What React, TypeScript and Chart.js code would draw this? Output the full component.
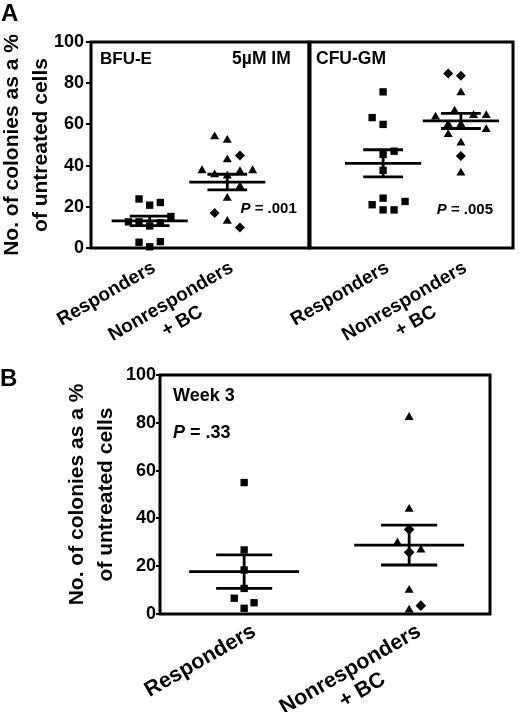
import React, { useEffect, useRef } from "react";
import { Chart, registerables } from "chart.js";

Chart.register(...registerables);

const FONT = "'Liberation Sans', Arial, Helvetica, sans-serif";

// ---------------- data ----------------
const categoryLabels: string[][] = [["Responders"], ["Nonresponders", "+ BC"]];
const yTicks = [0, 20, 40, 60, 80, 100];
const yTitleLines = ["No. of colonies as a %", "of untreated cells"];

// Panel A – BFU-E (5µM IM)
const bfuRespValues = [23.8, 20.8, 22.1, 15.3, 12.7, 12.7, 10.7, 12.2, 2.8, 3.1, 0.6];
const bfuRespCols = [-1, 0, 1, 2, -2, -1, 0, 1, -1, 1, 0];
const bfuNrTriValues = [54, 52.3, 42.9, 37.6, 35.6, 35, 37.2, 37.6, 29.8, 24.2, 13];
const bfuNrTriCols = [-1, 0, 0, -2, -1, 0, 1, 2, 1, 0, 0];
const bfuBcDiaValues = [44.9, 17, 9.9];
const bfuBcDiaCols = [1, -1, 1];
const bfuMeans = [13.2, 32];
const bfuSems = [2.3, 3.8];

// Panel A – CFU-GM
const cfuRespValues = [75.8, 63.3, 60, 47, 45.4, 37.7, 24.2, 21, 22.6, 18.5, 18.5];
const cfuRespCols = [0, -1, 0, 1, 0, 0, 0, -1, 2, 0, 1];
const cfuNrTriValues = [75.4, 66.5, 63.6, 64.4, 64.4, 60, 60, 57.6, 55.1, 51, 36.4];
const cfuNrTriCols = [0, -0.5, -2, 1, 2, -1, 0, 2, -1, 0, 0];
const cfuBcDiaValues = [84.7, 83.6, 44.6];
const cfuBcDiaCols = [-1, 0, 0];
const cfuMeans = [41.1, 61.7];
const cfuSems = [6.6, 3.7];

// Panel B – Week 3
const wk3RespValues = [55, 26.8, 18.4, 10.7, 6.6, 4.7, 2.4];
const wk3RespCols = [0, 0, 0, 0, -1, 1, 0];
const wk3NrTriValues = [82.3, 43.9, 29.8, 26.8, 10, 1.7];
const wk3NrTriCols = [0, 0, -1, 1, 0, 0];
const wk3BcDiaValues = [35.4, 25.8, 3.5];
const wk3BcDiaCols = [0, 0, 1];
const wk3Means = [17.7, 28.85];
const wk3Sems = [7, 8.35];

// ---------------- helpers ----------------
type Part = { t: string; italic?: boolean };
type Ann = {
  parts: Part[];
  size: number;
  fromX: "left" | "right";
  dx: number;
  fromY: "top" | "bottom";
  dy: number;
};
type Series = { values: number[]; cols: number[]; group: number; style: string; radius: number; step: number };

type Spec = {
  series: Series[];
  means: number[];
  sems: number[];
  xMin: number;
  xMax: number;
  meanHalf: number;
  semHalf: number;
  showY: boolean;
  yWidth: number;
  tickLen: number;
  tickPad: number;
  padding: { left: number; right: number; top: number; bottom: number };
  labelSize: number;
  labelDx: number;
  labelDy: number;
  labelLineH: number;
  anns: Ann[];
};

function toPoints(values: number[], cols: number[], group: number, step: number) {
  return values.map((v, i) => ({ x: group + cols[i] * step, y: v }));
}

function makeDecor(spec: Spec) {
  return {
    id: "panelDecor",
    beforeDatasetsDraw(chart: any) {
      const { ctx, chartArea: a } = chart;
      ctx.save();
      ctx.strokeStyle = "#000";
      ctx.lineWidth = 3;
      ctx.strokeRect(a.left, a.top, a.right - a.left, a.bottom - a.top);
      ctx.restore();
    },
    afterDraw(chart: any) {
      const { ctx, chartArea: a } = chart;
      const xs = chart.scales.x;
      ctx.save();
      ctx.fillStyle = "#000";
      // annotations
      for (const ann of spec.anns) {
        const fonts = ann.parts.map(
          (p) => `${p.italic ? "italic " : ""}bold ${ann.size}px ${FONT}`
        );
        const widths = ann.parts.map((p, i) => {
          ctx.font = fonts[i];
          return ctx.measureText(p.t).width;
        });
        const total = widths.reduce((s, w) => s + w, 0);
        let x = ann.fromX === "left" ? a.left + ann.dx : a.right - ann.dx - total;
        const y = ann.fromY === "top" ? a.top + ann.dy : a.bottom - ann.dy;
        ctx.textBaseline = "middle";
        ctx.textAlign = "left";
        ann.parts.forEach((p, i) => {
          ctx.font = fonts[i];
          ctx.fillText(p.t, x, y);
          x += widths[i];
        });
      }
      // rotated category labels
      const ang = -Math.PI / 6;
      ctx.font = `bold ${spec.labelSize}px ${FONT}`;
      categoryLabels.forEach((lines, i) => {
        const px = xs.getPixelForValue(i) + spec.labelDx;
        const py = a.bottom + spec.labelDy;
        ctx.save();
        ctx.translate(px, py);
        ctx.rotate(ang);
        ctx.textBaseline = "alphabetic";
        ctx.textAlign = "right";
        ctx.fillText(lines[0], 0, 0);
        const w1 = ctx.measureText(lines[0]).width;
        ctx.textAlign = "center";
        for (let k = 1; k < lines.length; k++) {
          ctx.fillText(lines[k], -w1 / 2, spec.labelLineH * k);
        }
        ctx.restore();
      });
      ctx.restore();
    },
  };
}

function buildChart(canvas: HTMLCanvasElement, spec: Spec) {
  const datasets: any[] = [];
  spec.series.forEach((s) => {
    datasets.push({
      data: toPoints(s.values, s.cols, s.group, s.step),
      pointStyle: s.style,
      pointRadius: s.radius,
      pointHoverRadius: s.radius,
      backgroundColor: "#000",
      borderColor: "#000",
      borderWidth: 0,
      showLine: false,
      clip: false,
      order: 1,
    });
  });
  const lineDs = (pts: { x: number; y: number }[]) => ({
    data: pts,
    showLine: true,
    borderColor: "#000",
    borderWidth: 2.8,
    pointRadius: 0,
    pointHoverRadius: 0,
    fill: false,
    clip: false,
    order: 0,
  });
  spec.means.forEach((m, g) => {
    const s = spec.sems[g];
    datasets.push(lineDs([{ x: g - spec.meanHalf, y: m }, { x: g + spec.meanHalf, y: m }]));
    datasets.push(lineDs([{ x: g - spec.semHalf, y: m + s }, { x: g + spec.semHalf, y: m + s }]));
    datasets.push(lineDs([{ x: g - spec.semHalf, y: m - s }, { x: g + spec.semHalf, y: m - s }]));
    datasets.push(lineDs([{ x: g, y: m - s }, { x: g, y: m + s }]));
  });

  return new Chart(canvas, {
    type: "scatter",
    data: { datasets },
    plugins: [makeDecor(spec)],
    options: {
      animation: false,
      responsive: false,
      events: [],
      layout: { padding: spec.padding },
      plugins: { legend: { display: false }, tooltip: { enabled: false } },
      scales: {
        x: { type: "linear", min: spec.xMin, max: spec.xMax, display: false },
        y: {
          type: "linear",
          min: 0,
          max: 100,
          display: spec.showY,
          afterBuildTicks: (sc: any) => {
            sc.ticks = yTicks.map((v) => ({ value: v }));
          },
          afterFit: (sc: any) => {
            sc.width = spec.yWidth;
          },
          ticks: {
            color: "#000",
            padding: spec.tickPad,
            font: { family: FONT, size: 18, weight: "bold" },
          },
          grid: {
            drawOnChartArea: false,
            drawTicks: true,
            tickLength: spec.tickLen,
            color: "#000",
            lineWidth: 2,
          },
          border: { display: false },
          title: {
            display: true,
            text: yTitleLines,
            color: "#000",
            padding: 0,
            font: { family: FONT, size: 21, weight: "bold", lineHeight: 1.38 },
          },
        },
      },
    } as any,
  });
}

const specA1: Spec = {
  series: [
    { values: bfuRespValues, cols: bfuRespCols, group: 0, style: "rect", radius: 5.2, step: 0.137 },
    { values: bfuNrTriValues, cols: bfuNrTriCols, group: 1, style: "triangle", radius: 5.2, step: 0.163 },
    { values: bfuBcDiaValues, cols: bfuBcDiaCols, group: 1, style: "rectRot", radius: 5, step: 0.163 },
  ],
  means: bfuMeans,
  sems: bfuSems,
  xMin: -0.756,
  xMax: 2.05,
  meanHalf: 0.49,
  semHalf: 0.256,
  showY: true,
  yWidth: 93,
  tickLen: 5,
  tickPad: 2,
  padding: { left: 0, right: 4, top: 42, bottom: 102 },
  labelSize: 19,
  labelDx: 7,
  labelDy: 23,
  labelLineH: 23,
  anns: [
    { parts: [{ t: "BFU-E" }], size: 17, fromX: "left", dx: 9, fromY: "top", dy: 17 },
    { parts: [{ t: "5µM IM" }], size: 17.5, fromX: "right", dx: 18, fromY: "top", dy: 17 },
    { parts: [{ t: "P", italic: true }, { t: " = .001" }], size: 15, fromX: "right", dx: 12, fromY: "bottom", dy: 39 },
  ],
};

const specA2: Spec = {
  series: [
    { values: cfuRespValues, cols: cfuRespCols, group: 0, style: "rect", radius: 5.2, step: 0.141 },
    { values: cfuNrTriValues, cols: cfuNrTriCols, group: 1, style: "triangle", radius: 5.2, step: 0.163 },
    { values: cfuBcDiaValues, cols: cfuBcDiaCols, group: 1, style: "rectRot", radius: 5, step: 0.163 },
  ],
  means: cfuMeans,
  sems: cfuSems,
  xMin: -0.94,
  xMax: 1.67,
  meanHalf: 0.49,
  semHalf: 0.256,
  showY: false,
  yWidth: 0,
  tickLen: 5,
  tickPad: 2,
  padding: { left: 70, right: 7, top: 42, bottom: 102 },
  labelSize: 19,
  labelDx: 7,
  labelDy: 23,
  labelLineH: 23,
  anns: [
    { parts: [{ t: "CFU-GM" }], size: 17.5, fromX: "left", dx: 6, fromY: "top", dy: 17 },
    { parts: [{ t: "P", italic: true }, { t: " = .005" }], size: 15, fromX: "right", dx: 20, fromY: "bottom", dy: 38 },
  ],
};

const specB: Spec = {
  series: [
    { values: wk3RespValues, cols: wk3RespCols, group: 0, style: "rect", radius: 5.2, step: 0.06 },
    { values: wk3NrTriValues, cols: wk3NrTriCols, group: 1, style: "triangle", radius: 5.2, step: 0.071 },
    { values: wk3BcDiaValues, cols: wk3BcDiaCols, group: 1, style: "rectRot", radius: 5.3, step: 0.071 },
  ],
  means: wk3Means,
  sems: wk3Sems,
  xMin: -0.51,
  xMax: 1.49,
  meanHalf: 0.333,
  semHalf: 0.17,
  showY: true,
  yWidth: 97,
  tickLen: 4,
  tickPad: 0,
  padding: { left: 0, right: 30, top: 15, bottom: 98 },
  labelSize: 21.5,
  labelDx: 13,
  labelDy: 21,
  labelLineH: 24,
  anns: [
    { parts: [{ t: "Week 3" }], size: 18, fromX: "left", dx: 13, fromY: "top", dy: 21 },
    { parts: [{ t: "P", italic: true }, { t: " = .33" }], size: 18, fromX: "left", dx: 13, fromY: "top", dy: 58.5 },
  ],
};

function ChartCanvas({ spec, left, top, width, height }: { spec: Spec; left: number; top: number; width: number; height: number }) {
  const ref = useRef<HTMLCanvasElement | null>(null);
  useEffect(() => {
    if (!ref.current) return;
    const ch = buildChart(ref.current, spec);
    return () => ch.destroy();
  }, [spec]);
  return (
    <canvas
      ref={ref}
      width={width}
      height={height}
      style={{ position: "absolute", left, top, width, height, display: "block" }}
    />
  );
}

const letterStyle: React.CSSProperties = {
  position: "absolute",
  fontFamily: FONT,
  fontWeight: "bold",
  fontSize: 24,
  lineHeight: "24px",
  color: "#000",
};

export default function App() {
  return (
    <div style={{ position: "absolute", left: 0, top: 0, width: 520, height: 712, overflow: "hidden", background: "#fff" }}>
      <ChartCanvas spec={specA1} left={-2} top={0} width={316} height={350} />
      <ChartCanvas spec={specA2} left={240} top={0} width={280} height={350} />
      <ChartCanvas spec={specB} left={63} top={360} width={457} height={352} />
      <div style={{ ...letterStyle, left: 1, top: 1 }}>A</div>
      <div style={{ ...letterStyle, left: 0, top: 366 }}>B</div>
    </div>
  );
}
